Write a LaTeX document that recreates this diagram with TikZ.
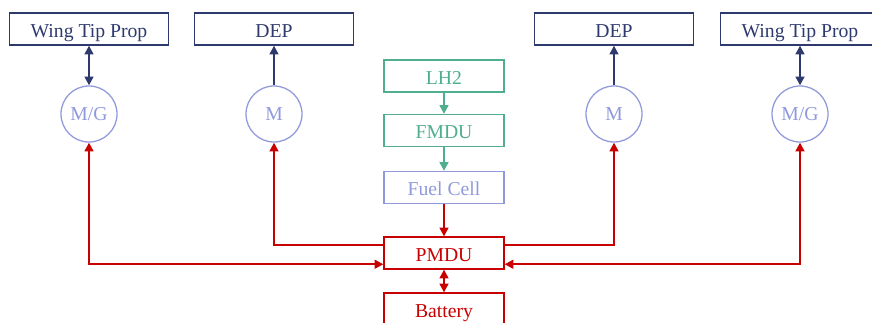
\documentclass[tikz,border=0pt]{standalone}
\usepackage{fontspec}
\setmainfont{Liberation Serif}
\usepackage{tikz}
\usetikzlibrary{arrows.meta,positioning}
\definecolor{Navy}{HTML}{2E3A6E}
\definecolor{Mint}{HTML}{4FAE8C}
\definecolor{Lilac}{HTML}{9099DB}
\definecolor{Power}{HTML}{C80000}
\tikzset{
  propbox/.style={draw=Navy,text=Navy,line width=0.9pt,minimum width=3.975cm,minimum height=0.8cm,inner sep=0pt,text height=12pt,text depth=0pt},
  fuelbox/.style={draw=#1,text=#1,line width=0.9pt,minimum width=3cm,minimum height=0.8cm,inner sep=0pt,text height=12pt,text depth=0pt},
  motor/.style={circle,draw=Lilac,text=Lilac,line width=0.9pt,minimum size=1.4cm,inner sep=0pt},
  link/.style={line width=1.5pt},
  tip/.style={link,-{Triangle[length=2.2mm,width=2.2mm]}},
  bitip/.style={link,{Triangle[length=2.2mm,width=2.2mm]}-{Triangle[length=2.2mm,width=2.2mm]}},
}
\begin{document}
\begin{tikzpicture}[x=0.025cm,y=-0.025cm,font=\fontsize{14}{17}\selectfont]
        \useasboundingbox (0,0) rectangle (872,322);
        \begin{scope}
        \clip (0,0) rectangle (872,322);
        % propulsors
        \node[propbox] (wtl) at (89,29) {Wing Tip Prop};
        \node[propbox] (depl) at (274,29) {DEP};
        \node[propbox] (depr) at (614,29) {DEP};
        \node[propbox] (wtr) at (800,29) {Wing Tip Prop};
        \node[motor] (mgl) at (89,114) {M/G};
        \node[motor] (ml) at (274,114) {M};
        \node[motor] (mr) at (614,114) {M};
        \node[motor] (mgr) at (800,114) {M/G};
        % fuel chain
        \node[fuelbox=Mint] (lh2) at (444,76) {LH2};
        \node[fuelbox=Mint] (fmdu) at (444,130.5) {FMDU};
        \node[fuelbox=Lilac] (fc) at (444,187.5) {Fuel Cell};
        \node[fuelbox=Power] (pmdu) at (444,253) {PMDU};
        \node[fuelbox=Power] (batt) at (444,309) {Battery};
        \draw[Navy,bitip] (mgl) -- (wtl);
        \draw[Navy,tip] (ml) -- (depl);
        \draw[Navy,tip] (mr) -- (depr);
        \draw[Navy,bitip] (mgr) -- (wtr);
        \draw[Mint,tip] (lh2) -- (fmdu);
        \draw[Mint,tip] (fmdu) -- (fc);
        \draw[Power,tip] (fc) -- (pmdu);
        \draw[Power,bitip] (pmdu) -- (batt);
        % power distribution
        \draw[Power,bitip] (mgl.south) |- ([yshift=-8]pmdu.west);
        \draw[Power,tip] ([yshift=6]pmdu.west) -| (ml.south);
        \draw[Power,tip] ([yshift=6]pmdu.east) -| (mr.south);
        \draw[Power,bitip] (mgr.south) |- ([yshift=-8]pmdu.east);
        \end{scope}
      \end{tikzpicture}
\end{document}
